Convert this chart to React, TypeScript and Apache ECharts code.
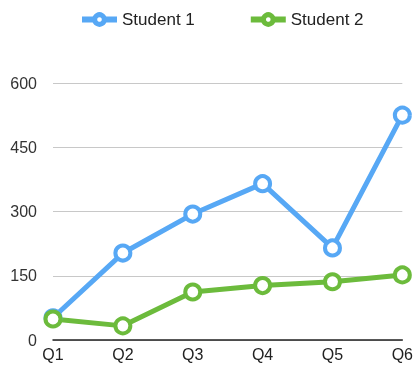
import React, { useEffect, useRef } from "react";
import * as echarts from "echarts";

const categories = ["Q1", "Q2", "Q3", "Q4", "Q5", "Q6"];
const student1 = [52, 203, 294, 365, 215, 525];
const student2 = [49, 33, 112, 127, 136, 152];
const yTicks = { min: 0, max: 600, interval: 150 };

export default function App() {
  const ref = useRef<HTMLDivElement>(null);
  useEffect(() => {
    const chart = echarts.init(ref.current!, null, { renderer: "svg" });
    const font = "'Liberation Sans', Arial, sans-serif";
    const mk = (name: string, data: number[], color: string) => ({
      name,
      type: "line",
      data,
      symbol: "circle",
      symbolSize: 15,
      showAllSymbol: true,
      lineStyle: { color, width: 5 },
      itemStyle: { color: "#ffffff", borderColor: color, borderWidth: 4 },
      emphasis: { disabled: true },
    });
    const legendItem = (name: string, color: string) => ({
      name,
      itemStyle: { color: "#ffffff", borderColor: color, borderWidth: 5 },
      lineStyle: { color, width: 6 },
    });
    chart.setOption({
      animation: false,
      textStyle: { fontFamily: font },
      legend: {
        top: 6,
        left: 74,
        itemWidth: 35,
        itemHeight: 12,
        itemGap: 53,
        textStyle: { fontSize: 17, color: "#222", fontFamily: font },
        data: [legendItem("Student 1", "#57a8f5"), legendItem("Student 2", "#6cbb3c")],
      },
      grid: { left: 53, right: 12, top: 83, bottom: 28 },
      xAxis: {
        type: "category",
        data: categories,
        boundaryGap: false,
        axisLine: { lineStyle: { color: "#222", width: 1.5 } },
        axisTick: { show: false },
        axisLabel: { color: "#222", fontSize: 16, margin: 6, fontFamily: font },
      },
      yAxis: {
        type: "value",
        min: yTicks.min,
        max: yTicks.max,
        interval: yTicks.interval,
        axisLine: { show: false },
        axisTick: { show: false },
        axisLabel: { color: "#333", fontSize: 16, margin: 16, fontFamily: font },
        splitLine: { lineStyle: { color: "#c8c8c8", width: 1 } },
      },
      series: [mk("Student 1", student1, "#57a8f5"), mk("Student 2", student2, "#6cbb3c")],
    });
    return () => chart.dispose();
  }, []);
  return (
    <div
      ref={ref}
      style={{ position: "fixed", left: 0, top: 0, width: 416, height: 368 }}
    />
  );
}
